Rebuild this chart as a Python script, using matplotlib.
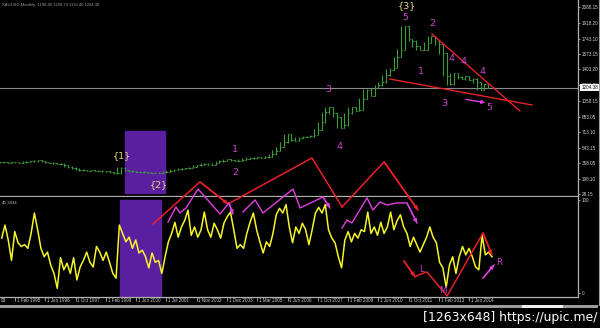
import numpy as np
import matplotlib
matplotlib.use("Agg")
import matplotlib.pyplot as plt
from matplotlib.patches import Rectangle
from matplotlib.collections import LineCollection
import matplotlib.transforms as mtrans

# ---------------- data ----------------
# monthly gold price, sampled every 2 bars (close)
price_close = [
    380, 382, 378, 380, 384, 376, 382, 388, 392, 396,
    404, 392, 384, 378, 372, 366, 364, 352, 334, 322,
    310, 298, 294, 288, 292, 286, 290, 284, 280, 274,
    268, 258, 320, 296, 288, 282, 278, 276, 272, 268,
    266, 262, 268, 270, 276, 290, 298, 304, 312, 316,
    318, 330, 346, 352, 366, 350, 356, 372, 390, 398,
    412, 404, 398, 394, 408, 422, 430, 426, 434, 432,
    436, 444, 470, 508, 548, 600, 690, 630, 620, 650,
    660, 664, 668, 680, 740, 820, 930, 990, 920, 880,
    760, 790, 920, 990, 950, 960, 1080, 1180, 1110, 1200,
    1230, 1260, 1340, 1400, 1420, 1540, 1620, 1880, 1740, 1720,
    1660, 1620, 1620, 1700, 1770, 1720, 1680, 1580, 1330, 1240,
    1360, 1320, 1300, 1330, 1290, 1300, 1260, 1180, 1240, 1204,
]
bar_step = 2

# oscillator (0..100)
osc_values = [
    59, 73, 57, 35, 66, 54, 50, 52, 48, 64,
    86, 68, 48, 39, 44, 30, 21, 5, 38, 25,
    32, 21, 38, 14, 28, 35, 44, 33, 28, 50,
    44, 35, 44, 33, 21, 16, 73, 64, 55, 60,
    48, 57, 43, 46, 39, 27, 43, 33, 35, 21,
    39, 55, 64, 76, 60, 71, 78, 89, 62, 71,
    60, 68, 87, 68, 60, 75, 68, 59, 75, 82,
    87, 68, 48, 52, 48, 64, 76, 86, 68, 55,
    43, 55, 50, 64, 84, 91, 86, 95,
    71, 54, 71, 64, 75, 68, 52, 68, 86, 92,
    86, 95, 68, 59, 54, 39, 27, 57, 66, 55,
    64, 59, 68, 66, 87, 64, 71, 62, 76, 64,
    71, 87, 68, 78, 84, 71, 64, 50, 60, 52,
    44, 52, 60, 71, 60, 54, 33, 27, 6, 30,
    39, 21, 39, 50, 41, 48, 39, 28, 25, 62,
    41, 44, 39,
]
osc_first_bar, osc_last_bar = 0.9, 260.0

date_labels = ["1 Feb 1995", "1 Jun 1996", "1 Oct 1997", "1 Feb 1999",
               "1 Jun 2000", "1 Jul 2001", "1 Nov 2002", "1 Dec 2003",
               "1 Mar 2005", "1 Jun 2006", "1 Oct 2007", "1 Feb 2009",
               "1 Jun 2010", "1 Oct 2011", "1 Feb 2013", "1 Jun 2014"]
first_label_bar, bars_per_label = 8, 16

price_ticks = [2088.15, 1918.20, 1743.10, 1573.15, 1403.20, 1233.20,
               1058.15, 883.05, 713.10, 543.15, 368.05, 198.10, 28.15]
last_price = 1204.38

# ---------------- style ----------------
plt.rcParams["font.family"] = ["Liberation Sans", "DejaVu Sans"]
BG = "black"
GREEN = "#3c9c3c"
YELLOW = "#f5f52a"
RED = "#e8202a"
MAG_LINE = "#e040e0"
MAG_TXT = "#cc44cc"
LBL_YEL = "#e6d67a"
PURPLE = "#5a1fa0"
AXC = "#b0b0b0"
TXT = "#d0d0d0"
SMALL = 3.3

W, H = 600, 328
fig = plt.figure(figsize=(6, 3.28), dpi=100, facecolor=BG)

def fx(px):
    return px / W

def fy(py):
    return 1 - py / H

ax1 = fig.add_axes([0, fy(196), fx(578), 196 / H], facecolor=BG)
ax2 = fig.add_axes([0, fy(297), fx(578), 100 / H], facecolor=BG)

xmax = 578 / 1.892
for ax in (ax1, ax2):
    ax.set_xlim(0, xmax)
    for s in ("top", "left"):
        ax.spines[s].set_visible(False)
    for s in ("bottom", "right"):
        ax.spines[s].set_color(AXC)
        ax.spines[s].set_linewidth(0.9)

ax1.set_ylim(9.4, 2168.6)
ax2.set_ylim(-4.3, 103.2)

# ---------------- price bars ----------------
close = np.array(price_close, dtype=float)
px_bars = np.arange(len(close)) * bar_step
prev_c = np.concatenate([[close[0]], close[:-1]])
next_c = np.concatenate([close[1:], [close[-1]]])
segs = []
for x, o, c, nx in zip(px_bars, prev_c, close, next_c):
    lo = min(o, c, nx)
    hi = max(o, c, nx)
    segs.append([(x, lo - 4), (x, hi + 4)])
    segs.append([(x - 0.7, o), (x, o)])
    segs.append([(x, c), (x + 0.7, c)])
ax1.add_collection(LineCollection(segs, colors=GREEN, linewidths=0.8, zorder=3))

ax1.axhline(last_price, color="#8a8a8a", lw=0.8, zorder=2)

# purple boxes
ax1.add_patch(Rectangle((66.1, 42.5), 21.1, 682.5, color=PURPLE, zorder=1))
ax2.add_patch(Rectangle((63.4, -4.3), 21.7, 104.3, color=PURPLE, zorder=1))

# ---------------- oscillator ----------------
osc = np.array(osc_values, dtype=float)
osc_x = np.linspace(osc_first_bar, osc_last_bar, len(osc))
ax2.plot(osc_x, osc, color=YELLOW, lw=1.1, zorder=3)

# ---------------- axes ticks ----------------
ax1.yaxis.tick_right()
ax1.set_yticks(price_ticks)
ax1.set_yticklabels([f"{v:.2f}" for v in price_ticks])
ax1.tick_params(axis="y", colors=AXC, labelcolor=TXT, labelsize=SMALL,
                length=1.5, width=0.6, pad=1)
ax1.set_xticks([])

ax2.yaxis.tick_right()
ax2.set_yticks([0, 100])
ax2.set_yticklabels(["0", "100"])
ax2.tick_params(axis="y", colors=AXC, labelcolor=TXT, labelsize=SMALL,
                length=1.5, width=0.6, pad=1)

tick_bars = first_label_bar + bars_per_label * np.arange(len(date_labels))
ax2.set_xticks(tick_bars)
ax2.set_xticklabels([])
ax2.tick_params(axis="x", colors=AXC, length=3, width=0.6, direction="out")
tb = mtrans.blended_transform_factory(ax2.transData, ax2.transAxes)
for b, lab in zip(tick_bars, date_labels):
    ax2.text(b + 0.9, -0.035, lab, transform=tb, ha="left", va="center",
             fontsize=SMALL, color=TXT, clip_on=False)
ax2.text(0.3, -0.035, "93", transform=tb, ha="left", va="center",
         fontsize=SMALL, color=TXT, clip_on=False)

# current price box
tr1 = mtrans.blended_transform_factory(ax1.transAxes, ax1.transData)
ax1.text(1.006, last_price, f"{last_price:.2f}", transform=tr1, ha="left",
         va="center", fontsize=SMALL, color="black", zorder=10,
         bbox=dict(fc="white", ec="none", pad=0.8), clip_on=False)

# header texts
ax1.text(0.003, 0.985, "XAUUSD,Monthly  1198.40 1208.79 1130.40 1204.38",
         transform=ax1.transAxes, fontsize=3.0, color="#9a9a9a",
         ha="left", va="top")
ax2.text(0.003, 0.955, "45.3834", transform=ax2.transAxes, fontsize=3.2,
         color="#bdbdbd", ha="left", va="top")

# ---------------- wave labels (top panel) ----------------
yl = dict(fontsize=6.8, ha="center", va="center", zorder=6,
          family=["DejaVu Sans"])
ax1.text(64.5, 450, "{1}", color=LBL_YEL, **yl)
ax1.text(84.0, 130, "{2}", color=LBL_YEL, **yl)
ax1.text(215.1, 2102, "{3}", color=LBL_YEL, clip_on=False, **yl)
for (bx, pv, s) in [(124.2, 527, "1"), (124.2, 263, "2"), (173.4, 1188, "3"),
                    (179.7, 560, "4"), (214.1, 1981, "5"), (228.3, 1915, "2"),
                    (222.5, 1386, "1"), (238.9, 1519, "4"), (245.2, 1486, "4"),
                    (254.8, 1386, "4"), (234.7, 1023, "3"), (258.5, 979, "5")]:
    ax1.text(bx, pv, s, color=MAG_TXT, **yl)

# red trend lines (triangle)
ax1.plot([228.3, 274.8], [1794, 946], color=RED, lw=1.0, zorder=5)
ax1.plot([206.1, 281.2], [1298, 1012], color=RED, lw=1.0, zorder=5)
ax1.annotate("", xy=(257.9, 1034), xytext=(244.7, 1078),
             arrowprops=dict(arrowstyle="-|>", color=MAG_LINE, lw=1.0,
                             mutation_scale=5), zorder=6)

# ---------------- zigzags (bottom panel, crossing up) ----------------
def poly(ax, xs, ys, color, arrow=True, lw=1.0):
    ax.plot(xs, ys, color=color, lw=lw, clip_on=False, zorder=5)
    if arrow:
        ax.annotate("", xy=(xs[-1], ys[-1]), xytext=(xs[-2], ys[-2]),
                    arrowprops=dict(arrowstyle="-|>", color=color, lw=lw,
                                    mutation_scale=5, shrinkA=0, shrinkB=0),
                    annotation_clip=False, zorder=5)

poly(ax2, [80.9, 105.7, 120.5], [74.2, 119.4, 95.7], RED, lw=1.1)
poly(ax2, [120.5, 164.9, 180.8], [95.7, 145.2, 92.5], RED, arrow=False, lw=1.1)
poly(ax2, [180.8, 203.0, 220.9], [92.5, 141.0, 89.2], RED, lw=1.1)
poly(ax2, [213.5, 219.3], [34.4, 17.5], RED, lw=1.1)
poly(ax2, [219.3, 222.0, 225.7, 236.3, 255.3, 260.0],
     [17.5, 20.0, 22.6, -3.2, 64.5, 40.9], RED, lw=1.1)

poly(ax2, [88.8, 93.0, 95.1, 98.3, 104.7, 116.3, 121.0, 123.2],
     [76.3, 92.5, 86.0, 91.4, 111.8, 84.9, 96.8, 84.9], MAG_LINE)
poly(ax2, [128.4, 134.8, 139.0, 154.9, 158.6, 170.7, 174.4],
     [87.1, 100.0, 86.0, 111.8, 91.4, 103.2, 91.4], MAG_LINE)
poly(ax2, [180.8, 183.4, 186.0, 194.0, 197.1, 200.8, 204.5, 209.8, 215.1, 220.4],
     [69.9, 78.5, 75.3, 102.2, 89.2, 97.8, 94.6, 96.8, 96.8, 75.3], MAG_LINE)
poly(ax2, [255.3, 261.1], [16.1, 30.1], MAG_LINE)

bl = dict(fontsize=6.2, ha="center", va="center", zorder=6, color=MAG_TXT,
          family=["DejaVu Sans"])
ax2.text(263.7, 33.3, "R", **bl)
ax2.text(223.0, 25.8, "L", **bl)
ax2.text(234.1, 3.2, "M", **bl)

# ---------------- frame / footer ----------------
fig.add_artist(Rectangle((0, fy(308)), fx(598), 3 / H, transform=fig.transFigure,
                         color="#9c9c9c", lw=0))
fig.add_artist(Rectangle((fx(522), fy(308)), fx(41), 3 / H,
                         transform=fig.transFigure, color="#f0f0f0", lw=0))
fig.add_artist(plt.Line2D([fx(598.5), fx(598.5)], [fy(0), fy(305)],
                          transform=fig.transFigure, color="#9c9c9c", lw=0.8))
fig.text(fx(597), fy(318), "[1263x648] https://upic.me/", color="white",
         fontsize=8.9, ha="right", va="center", family=["DejaVu Sans"])

fig.savefig("out.png", dpi=100, facecolor=BG)
